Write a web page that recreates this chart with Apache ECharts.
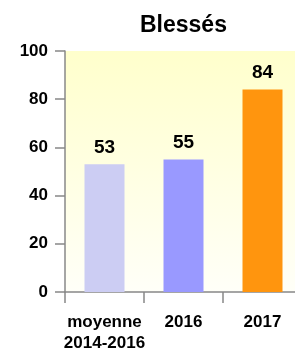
<!DOCTYPE html>
<html><head><meta charset="utf-8">
<script src="https://cdn.jsdelivr.net/npm/echarts@6/dist/echarts.min.js"></script>
<style>html,body{margin:0;padding:0;background:#fff;}#c{width:295px;height:350px;}</style>
</head><body><div id="c"></div>
<script>
const categories = ['moyenne\n2014-2016', '2016', '2017'];
const values = [53, 55, 84];
const barColors = ['#cccdf3', '#9999ff', '#ff950e'];
const yTicks = [0, 20, 40, 60, 80, 100];

const chart = echarts.init(document.getElementById('c'), null, {renderer: 'canvas'});
const font = '"Liberation Sans", Arial, sans-serif';
chart.setOption({
  animation: false,
  title: {text: 'Blessés', left: 135, top: 9,
    textStyle: {fontFamily: font, fontWeight: 'bold', fontSize: 23, color: '#000'}},
  grid: {left: 65, top: 51, width: 237, bottom: 58, show: true, borderWidth: 0,
    outerBoundsMode: 'none', containLabel: false,
    backgroundColor: new echarts.graphic.LinearGradient(0, 0, 0, 1, [
      {offset: 0, color: '#ffffcc'}, {offset: 1, color: '#fffff8'}])},
  xAxis: {type: 'category', data: categories, boundaryGap: true,
    axisLine: {lineStyle: {color: '#888', width: 1.5}},
    axisTick: {show: true, alignWithLabel: false, length: 11, lineStyle: {color: '#888', width: 1.5}},
    axisLabel: {margin: 20, fontFamily: font, fontWeight: 'bold', fontSize: 17, color: '#000', lineHeight: 21, interval: 0}},
  yAxis: {type: 'value', min: yTicks[0], max: yTicks[yTicks.length-1], interval: 20,
    axisLine: {show: true, lineStyle: {color: '#888', width: 1.5}},
    axisTick: {show: true, length: 10, lineStyle: {color: '#888', width: 1.5}},
    splitLine: {show: false},
    axisLabel: {margin: 17, fontFamily: font, fontWeight: 'bold', fontSize: 17, color: '#000'}},
  series: [{type: 'bar', barWidth: 40,
    data: values.map((v, i) => ({value: v, itemStyle: {color: barColors[i]}})),
    label: {show: true, position: 'top', distance: 7, fontFamily: font, fontWeight: 'bold', fontSize: 19, color: '#000'}}]
});
</script></body></html>
